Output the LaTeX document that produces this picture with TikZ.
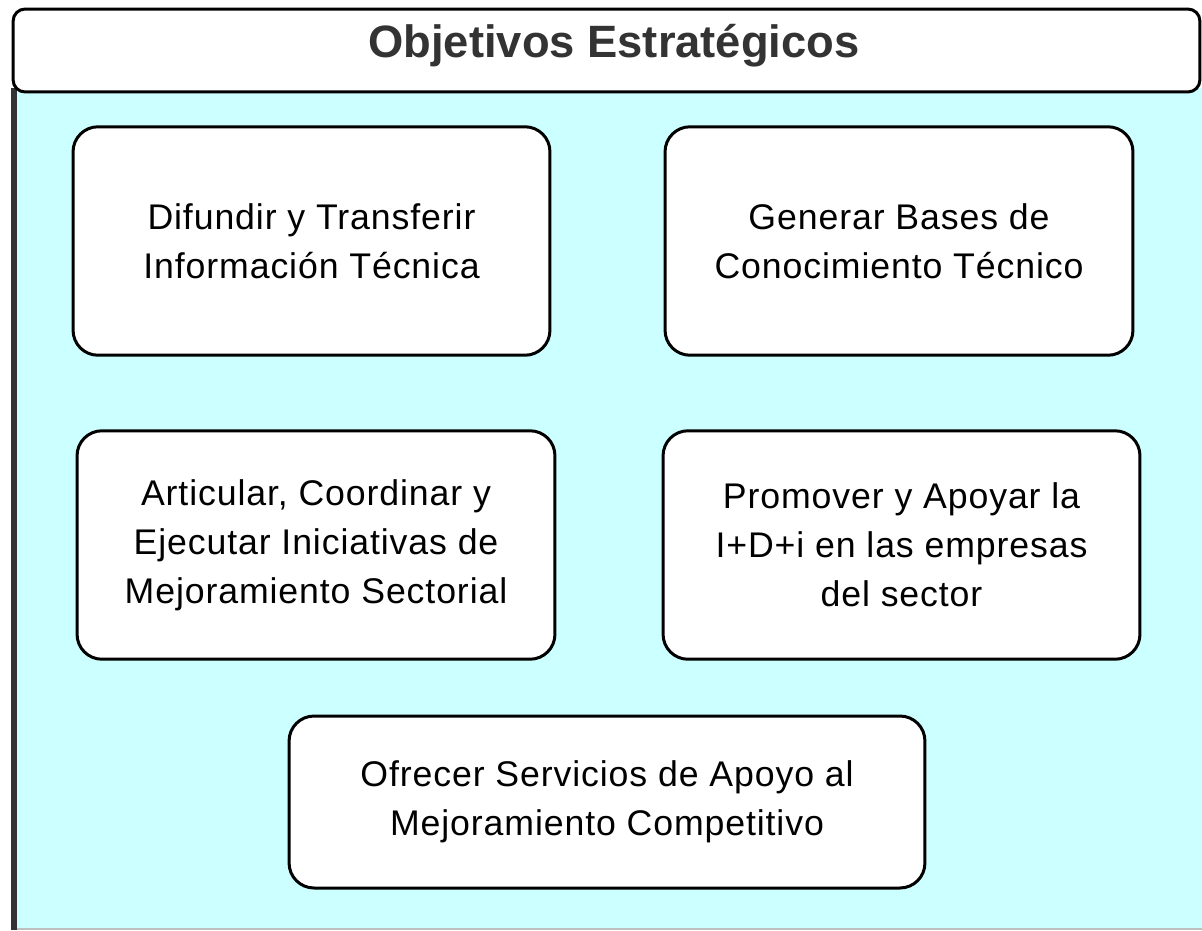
\documentclass[tikz,border=0pt]{standalone}
\usepackage{fontspec}
\setmainfont{Liberation Sans}
\newfontfamily\boxfont[LetterSpace=2.5]{Liberation Sans}
\definecolor{panelcyan}{RGB}{204,255,255}
\definecolor{darkgray}{RGB}{51,51,51}

\begin{document}
\begin{tikzpicture}[x=0.02cm, y=-0.02cm,
	objbox/.style={draw, line width=0.06cm, fill=white, rounded corners=0.5cm, align=center, inner sep=0pt, minimum height=4.57cm, font=\boxfont\fontsize{20.3pt}{27.9pt}\selectfont},
	titlebox/.style={draw, line width=0.06cm, fill=white, rounded corners=0.24cm, inner sep=0pt, minimum width=23.74cm, minimum height=1.66cm}]
	\useasboundingbox (0,0) rectangle (1202,930);

	% panel
	\fill[panelcyan]	(11,88) rectangle (1202,930);
	\draw[darkgray, line width=0.12cm]	(14,88) -- (14,930);
	\draw[gray!50, line width=0.04cm]	(17,929) -- (1202,929);

	% title
	\node[titlebox]	(titulo)	at (606.5,50.5)	{};
	\node[anchor=base, text=darkgray, font=\fontsize{25.8pt}{30pt}\selectfont\bfseries]	(titulotexto)	at (614,57)	{Objetivos Estratégicos};

	% objetivos
	\node[objbox, minimum width=9.54cm]	(difundir)	at (311.5,241)	{Difundir y Transferir\\Información Técnica};
	\node[objbox, minimum width=9.36cm]	(generar)	at (899,241)	{Generar Bases de\\Conocimiento Técnico};
	\node[objbox, minimum width=9.56cm]	(articular)	at (316,545)	{Articular, Coordinar y\\Ejecutar Iniciativas de\\Mejoramiento Sectorial};
	\node[objbox, minimum width=9.54cm]	(promover)	at (901.5,545)	{Promover y Apoyar la\\I+D+i en las empresas\\del sector};
	\node[objbox, minimum width=12.72cm, minimum height=3.44cm]	(ofrecer)	at (607,802)	{Ofrecer Servicios de Apoyo al\\Mejoramiento Competitivo};
\end{tikzpicture}
\end{document}
